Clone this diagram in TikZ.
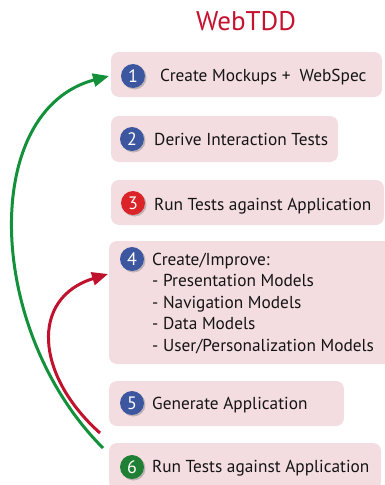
\documentclass[tikz,border=0pt]{standalone}
\usepackage{fontspec}
\setmainfont{PT Sans}
\usetikzlibrary{shadows,arrows.meta}
\definecolor{boxpink}{HTML}{F4DDE1}
\definecolor{numblue}{HTML}{3C57A0}
\definecolor{numred}{HTML}{DA2427}
\definecolor{numgreen}{HTML}{1F7F34}
\definecolor{titlered}{HTML}{C4122F}
\definecolor{arrgreen}{HTML}{13903A}
\definecolor{arrred}{HTML}{C0112D}
\definecolor{txt}{HTML}{141414}
\begin{document}
\begin{tikzpicture}[x=1pt,y=-1pt,
  stepbox/.style={fill=boxpink,rounded corners=8pt},
  num/.style={circle,fill=#1,minimum size=24pt,inner sep=0pt,text=white,
    font=\fontsize{18}{18}\selectfont,
    drop shadow={shadow xshift=1.5pt,shadow yshift=-1.5pt,opacity=0.45}},
  lbl/.style={anchor=base west,inner sep=0pt,text=txt,font=\fontsize{17.3}{17.3}\selectfont},
  flow/.style={line width=3pt,-{Triangle[length=16pt,width=13pt]}}]
\useasboundingbox (0,0) rectangle (385,485);
\node[text=titlered,font=\fontsize{27}{27}\selectfont,anchor=base] (title) at (246,30) {WebTDD};
% boxes
\fill[stepbox] (111,52) rectangle (382,97);
\fill[stepbox] (111,116) rectangle (338,162);
\fill[stepbox] (111,180) rectangle (384,225);
\fill[stepbox] (109,241) rectangle (395,364);
\fill[stepbox] (109,381) rectangle (344,426);
\fill[stepbox] (109,443) rectangle (381,490);
% numbers
\node[num=numblue] (n1) at (133,76) {1};
\node[num=numblue] (n2) at (132,139) {2};
\node[num=numred] (n3) at (133,203) {3};
\node[num=numblue] (n4) at (132,259) {4};
\node[num=numblue] (n5) at (132,403) {5};
\node[num=numgreen] (n6) at (132,467) {6};
% labels
\node[lbl] (t1) at (160,81) {Create Mockups +\ \ WebSpec};
\node[lbl] (t2) at (154,145) {Derive Interaction Tests};
\node[lbl] (t3) at (154,210) {Run Tests against Application};
\node[lbl] (t4a) at (152,265) {Create/Improve:};
\node[lbl] (t4b) at (152,286.5) {- Presentation Models};
\node[lbl] (t4c) at (152,308) {- Navigation Models};
\node[lbl] (t4d) at (152,329.5) {- Data Models};
\node[lbl] (t4e) at (152,351) {- User/Personalization Models};
\node[lbl] (t5) at (152,409) {Generate Application};
\node[lbl] (t6) at (152,472) {Run Tests against Application};
% arrows
\coordinate (gs) at (103,448);
\coordinate (ge) at (109,76);
\coordinate (rs) at (100,433);
\coordinate (re) at (108,274);
\draw[flow,draw=arrgreen] (gs) .. controls (-15,330) and (-20,110) .. (ge);
\draw[flow,draw=arrred] (rs) .. controls (35,375) and (30,298) .. (re);
\end{tikzpicture}
\end{document}
